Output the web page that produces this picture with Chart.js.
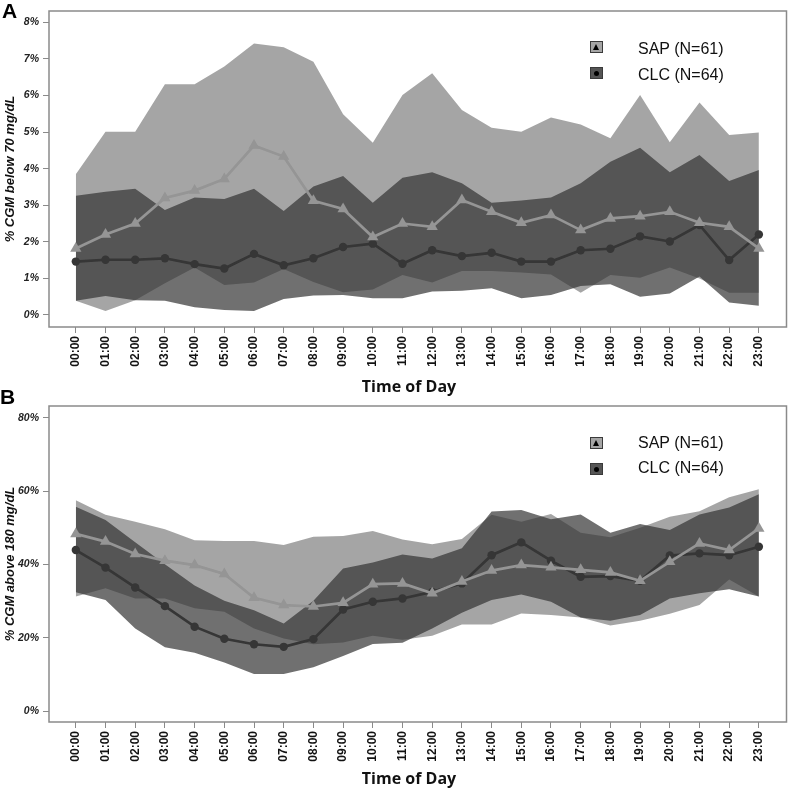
<!DOCTYPE html>
<html>
<head>
<meta charset="utf-8">
<script src="https://cdn.jsdelivr.net/npm/chart.js@4.4.1/dist/chart.umd.min.js"></script>
<style>
  body { margin: 0; background: #fff; }
  #page { position: relative; width: 793px; height: 790px; overflow: hidden; }
  canvas { position: absolute; left: 0; }
  .panel-label { position: absolute; font: bold 21px Arial, sans-serif; line-height: 21px; color: #000; }
  .x-title { position: absolute; width: 200px; text-align: center; font: bold 16px 'Open Sans', sans-serif; line-height: 20px; color: #111; }
  .leg-box { position: absolute; left: 590px; width: 13px; height: 12px; box-sizing: border-box; border: 1px solid #3a3a3a; }
  .leg-box.sap { background: #a5a5a5; }
  .leg-box.clc { background: #555; }
  .tri { position: absolute; left: 2px; top: 2px; width: 0; height: 0; border-left: 3.5px solid transparent; border-right: 3.5px solid transparent; border-bottom: 6px solid #000; }
  .dot { position: absolute; left: 3px; top: 3px; width: 5px; height: 5px; border-radius: 50%; background: #000; }
  .leg-text { position: absolute; left: 638px; font: 16px Arial, sans-serif; line-height: 18px; color: #111; }
</style>
</head>
<body>
<div id="page">
  <canvas id="chartA" width="793" height="395" style="top:0"></canvas>
  <canvas id="chartB" width="793" height="395" style="top:395px"></canvas>

  <div class="panel-label" style="left:2px; top:0">A</div>
  <div class="panel-label" style="left:0; top:386px">B</div>

  <div class="x-title" style="left:309px; top:376px">Time of Day</div>
  <div class="x-title" style="left:309px; top:768px">Time of Day</div>

  <div class="leg-box sap" style="top:41px"><div class="tri"></div></div>
  <div class="leg-text" style="top:40px">SAP (N=61)</div>
  <div class="leg-box clc" style="top:67px"><div class="dot"></div></div>
  <div class="leg-text" style="top:66px">CLC (N=64)</div>

  <div class="leg-box sap" style="top:437px"><div class="tri"></div></div>
  <div class="leg-text" style="top:434px">SAP (N=61)</div>
  <div class="leg-box clc" style="top:463px"><div class="dot"></div></div>
  <div class="leg-text" style="top:459px">CLC (N=64)</div>
</div>

<script>
const hours = ['00:00', '01:00', '02:00', '03:00', '04:00', '05:00', '06:00', '07:00',
  '08:00', '09:00', '10:00', '11:00', '12:00', '13:00', '14:00', '15:00',
  '16:00', '17:00', '18:00', '19:00', '20:00', '21:00', '22:00', '23:00'];

// Panel A: % CGM below 70 mg/dL
const yTicksA = [0, 1, 2, 3, 4, 5, 6, 7, 8];
const sapMeanA = [1.82, 2.2, 2.5, 3.2, 3.4, 3.72, 4.63, 4.33, 3.12, 2.9, 2.13, 2.5,
  2.41, 3.14, 2.82, 2.52, 2.73, 2.32, 2.64, 2.7, 2.82, 2.52, 2.41, 1.82];
const sapHiA = [3.85, 5.01, 5.01, 6.31, 6.31, 6.79, 7.42, 7.32, 6.92, 5.49, 4.71, 6.01,
  6.61, 5.6, 5.12, 5.01, 5.4, 5.21, 4.83, 6.01, 4.72, 5.81, 4.92, 4.99];
const sapLoA = [0.39, 0.11, 0.4, 0.87, 1.3, 0.82, 0.89, 1.26, 0.9, 0.62, 0.7, 1.09,
  0.89, 1.2, 1.2, 1.16, 1.11, 0.61, 1.09, 1.02, 1.3, 1.0, 0.61, 0.61];
const clcMeanA = [1.46, 1.51, 1.51, 1.55, 1.39, 1.27, 1.67, 1.36, 1.55, 1.86, 1.95, 1.4,
  1.77, 1.61, 1.7, 1.46, 1.46, 1.77, 1.81, 2.15, 2.01, 2.46, 1.5, 2.2];
const clcHiA = [3.26, 3.37, 3.45, 2.87, 3.21, 3.17, 3.45, 2.84, 3.51, 3.8, 3.07, 3.75,
  3.9, 3.6, 3.07, 3.13, 3.21, 3.6, 4.19, 4.57, 3.9, 4.37, 3.66, 3.96];
const clcLoA = [0.39, 0.52, 0.4, 0.39, 0.21, 0.14, 0.11, 0.44, 0.53, 0.55, 0.46, 0.46,
  0.64, 0.66, 0.73, 0.46, 0.55, 0.79, 0.84, 0.5, 0.59, 1.05, 0.34, 0.25];

// Panel B: % CGM above 180 mg/dL
const yTicksB = [0, 20, 40, 60, 80];
const sapMeanB = [48.3, 46.2, 42.8, 41.0, 39.8, 37.4, 30.9, 28.9, 28.5, 29.5, 34.6, 34.8,
  32.1, 35.3, 38.3, 39.8, 39.2, 38.5, 37.8, 35.5, 40.7, 45.7, 43.9, 49.8];
const sapHiB = [57.5, 53.5, 51.6, 49.6, 46.6, 46.4, 46.4, 45.3, 47.5, 47.7, 49.1, 46.8,
  45.5, 46.9, 53.5, 51.6, 53.7, 48.6, 47.4, 50.0, 53.0, 54.5, 58.3, 60.5];
const sapLoB = [31.2, 33.5, 30.7, 30.7, 28.0, 27.1, 22.5, 19.8, 18.2, 18.7, 20.5, 19.4,
  20.5, 23.6, 23.6, 26.6, 26.2, 25.5, 23.3, 24.6, 26.5, 28.9, 35.9, 31.2];
const clcMeanB = [43.9, 39.1, 33.7, 28.6, 23.0, 19.7, 18.2, 17.5, 19.6, 27.7, 29.8, 30.7,
  32.5, 34.8, 42.5, 46.0, 41.0, 36.6, 36.8, 35.5, 42.4, 43.0, 42.5, 44.8];
const clcHiB = [55.7, 52.1, 46.0, 40.0, 34.2, 30.1, 27.5, 23.9, 30.1, 38.9, 40.5, 42.7,
  41.6, 44.4, 54.4, 54.8, 52.3, 53.6, 48.6, 51.0, 49.4, 53.6, 55.5, 59.1];
const clcLoB = [32.4, 30.3, 22.5, 17.4, 15.9, 13.2, 10.1, 10.1, 11.9, 15.0, 18.3, 18.6,
  22.5, 26.8, 30.3, 31.8, 29.8, 25.5, 24.6, 26.2, 30.7, 32.1, 33.2, 31.2];

const SAP_BAND = 'rgba(50, 50, 50, 0.44)';
const CLC_BAND = 'rgba(0, 0, 0, 0.56)';
const SAP_LINE = '#959595';
const CLC_LINE = '#363636';
const AXIS_GREY = '#8a8a8a';

function toPoints(arr) {
  return arr.map((v, i) => ({ x: i, y: v }));
}

const framePlugin = {
  id: 'frame',
  afterDraw(chart) {
    const { ctx, chartArea: a } = chart;
    ctx.save();
    ctx.strokeStyle = AXIS_GREY;
    ctx.lineWidth = 1.5;
    ctx.strokeRect(a.left, a.top, a.right - a.left, a.bottom - a.top);
    ctx.restore();
  }
};

function band(values, color, fill) {
  return {
    data: toPoints(values),
    borderWidth: 0,
    pointRadius: 0,
    backgroundColor: color,
    fill: fill
  };
}

function crearGrafico(id, d) {
  const ctx = document.getElementById(id).getContext('2d');
  return new Chart(ctx, {
    type: 'line',
    data: {
      datasets: [
        {
          data: toPoints(d.sapMean),
          borderColor: SAP_LINE,
          borderWidth: 2.7,
          pointStyle: 'triangle',
          pointRadius: 6.5,
          pointBackgroundColor: SAP_LINE,
          pointBorderWidth: 0,
          fill: false
        },
        {
          data: toPoints(d.clcMean),
          borderColor: CLC_LINE,
          borderWidth: 2.7,
          pointStyle: 'circle',
          pointRadius: 4.2,
          pointBackgroundColor: CLC_LINE,
          pointBorderWidth: 0,
          fill: false
        },
        band(d.sapHi, SAP_BAND, '+1'),
        band(d.sapLo, 'transparent', false),
        band(d.clcHi, CLC_BAND, '+1'),
        band(d.clcLo, 'transparent', false)
      ]
    },
    options: {
      responsive: false,
      animation: false,
      devicePixelRatio: 1,
      layout: { padding: { top: 11, right: 2, left: 0, bottom: 0 } },
      plugins: {
        legend: { display: false },
        tooltip: { enabled: false }
      },
      scales: {
        x: {
          type: 'linear',
          min: -0.903,
          max: 23.93,
          afterBuildTicks: scale => {
            scale.ticks = hours.map((h, i) => ({ value: i }));
          },
          afterFit: scale => { scale.height = 68; },
          ticks: {
            autoSkip: false,
            minRotation: 90,
            maxRotation: 90,
            padding: 3,
            color: '#111',
            font: { family: 'Arial', size: 12, weight: 'bold' },
            callback: value => hours[value]
          },
          grid: { drawOnChartArea: false, drawTicks: true, tickLength: 6, color: AXIS_GREY },
          border: { display: false }
        },
        y: {
          min: d.yMin,
          max: d.yMax,
          afterBuildTicks: scale => {
            scale.ticks = d.yTicks.map(v => ({ value: v }));
          },
          afterFit: scale => { scale.width = 49; },
          ticks: {
            padding: 4,
            color: '#222',
            font: { family: 'Arial', size: 10.5, weight: 'bold', style: 'italic' },
            callback: value => value + '%'
          },
          grid: { drawOnChartArea: false, drawTicks: true, tickLength: 6, color: AXIS_GREY },
          border: { display: false },
          title: {
            display: true,
            text: d.yTitle,
            color: '#111',
            padding: { top: 3, bottom: 0 },
            font: { family: 'Arial', size: 13, weight: 'bold', style: 'italic' }
          }
        }
      }
    },
    plugins: [framePlugin]
  });
}

crearGrafico('chartA', {
  sapMean: sapMeanA, sapHi: sapHiA, sapLo: sapLoA,
  clcMean: clcMeanA, clcHi: clcHiA, clcLo: clcLoA,
  yTicks: yTicksA, yMin: -0.328, yMax: 8.309,
  yTitle: '% CGM below 70 mg/dL'
});

crearGrafico('chartB', {
  sapMean: sapMeanB, sapHi: sapHiB, sapLo: sapLoB,
  clcMean: clcMeanB, clcHi: clcHiB, clcLo: clcLoB,
  yTicks: yTicksB, yMin: -3.0, yMax: 83.19,
  yTitle: '% CGM above 180 mg/dL'
});
</script>
</body>
</html>
